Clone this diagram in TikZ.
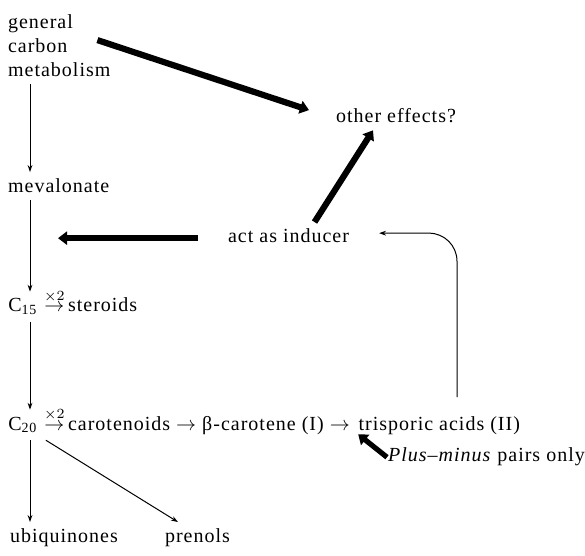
\documentclass[tikz,border=0pt]{standalone}
\usepackage{fontspec}
\setmainfont{Liberation Serif}[LetterSpace=5]
\usepackage{tikz}
\usetikzlibrary{arrows,arrows.meta}
\tikzstyle{flow} = [line width=0.5pt,-{Stealth[length=3.5pt,width=2.4pt]}]
\tikzstyle{fat} = [line width=3.1pt,-{Triangle[length=4.5pt,width=6.5pt]}]
\tikzstyle{txt} = [anchor=base west]
\tikzstyle{piece} = [anchor=base west, inner xsep=0pt]

\begin{document}
\begin{tikzpicture}[x=0.5pt, y=-0.5pt]
            \useasboundingbox (0,0) rectangle (585,556);
            \coordinate (spine) at (30,0);
            \coordinate (feed) at (58,0);
            \coordinate (loop) at (457,0);
            \node[anchor=north west, align=left] (gcm) at (1,8) {general\\carbon\\metabolism};
            \node[txt] (other) at (329,123) {other effects?};
            \node[txt] (mev) at (1,193) {mevalonate};
            \node[txt] (inducer) at (221,243) {act as inducer};
            \node[piece] (c15) at (8,312) {C\textsubscript{15}};
            \node[piece] (steroids) at ([xshift=3pt]c15.base east) {$\stackrel{\times 2}{\rightarrow}$\,steroids};
            \node[piece] (c20) at (8,430) {C\textsubscript{20}};
            \node[piece] (chain) at ([xshift=3pt]c20.base east) {$\stackrel{\times 2}{\rightarrow}$\,carotenoids $\rightarrow$ β-carotene (I) $\rightarrow$};
            \node[piece] (tris) at ([xshift=4pt]chain.base east) {trisporic acids (II)};
            \node[txt] (pm) at (381,462) {\textit{Plus–minus} pairs only};
            \node[txt] (ubi) at (3,543) {ubiquinones};
            \node[txt] (pren) at (158,543) {prenols};
            \draw[flow] (gcm.south -| spine) -- (mev.north -| spine);
            \draw[flow] (mev.south -| spine) -- (c15.north -| spine);
            \draw[flow] (c15.south -| spine) -- (c20.north -| spine);
            \draw[flow] (c20.south -| spine) -- (ubi.north -| spine);
            \draw[flow] ([xshift=4pt]c20.south east) -- ([xshift=10pt]pren.north west);
            \draw[flow, rounded corners=14pt] ([yshift=6pt]tris.north -| loop) |- ([xshift=11.5pt,yshift=1.5pt]inducer.east);
            \draw[fat] ([xshift=-10pt,yshift=3pt]gcm.east) -- ([xshift=-10pt,yshift=3pt]other.west);
            \draw[fat] ([xshift=13pt]inducer.north) -- ([xshift=-11.5pt]other.south);
            \draw[fat] ([xshift=-11.5pt,yshift=-1pt]inducer.west) -- ([yshift=-1pt]inducer.west -| feed);
            \draw[fat, line width=2.6pt] ([xshift=3pt]pm.west) -- ([yshift=3.5pt]tris.south west);
        \end{tikzpicture}
\end{document}
